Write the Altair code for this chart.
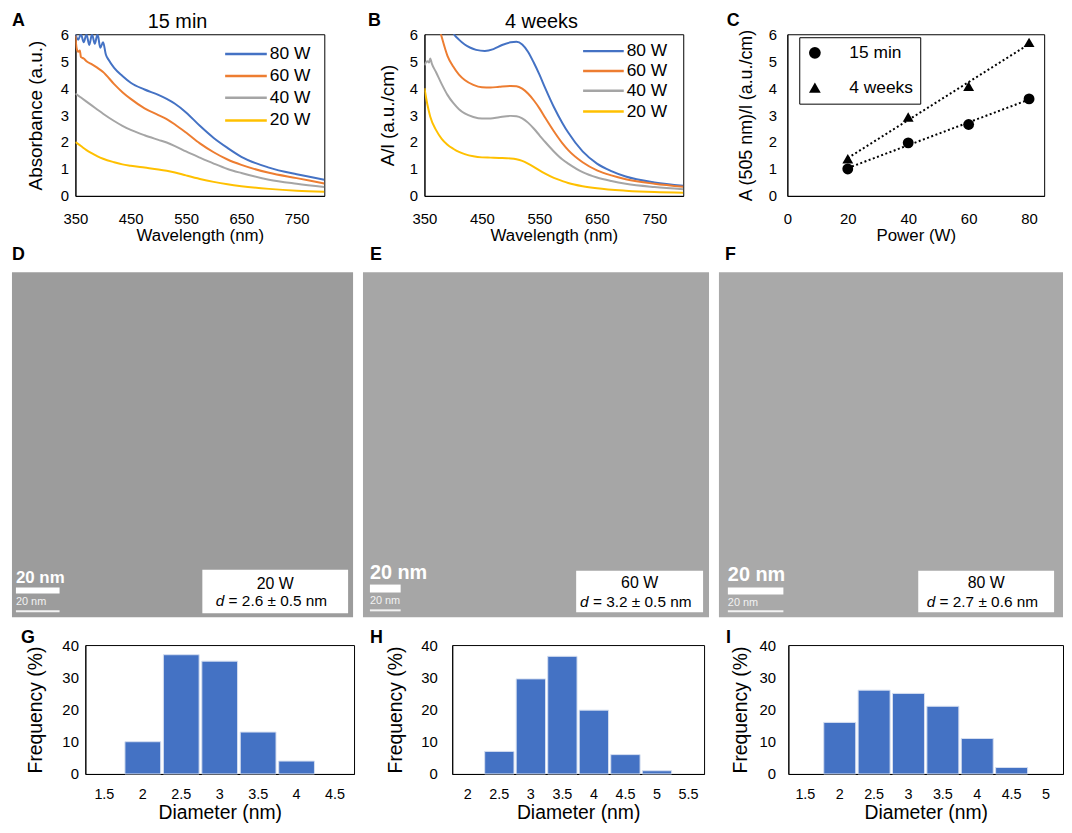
import altair as alt
import pandas as pd

FONT = "Liberation Sans"
BLUE, ORANGE, GRAY, YELLOW = "#4472C4", "#ED7D31", "#A5A5A5", "#FFC000"
SERIES = ["80 W", "60 W", "40 W", "20 W"]
SERIES_COLORS = [BLUE, ORANGE, GRAY, YELLOW]
WL_TICKS = [350, 450, 550, 650, 750]

# ---------------- Panel A : 15 min spectra ----------------
A_WL_80 = [350, 355, 360, 365, 370, 375, 380, 385, 390, 395, 400, 405, 410, 420, 435, 450,
           475, 500, 515, 530, 550, 575, 600, 625, 650, 700, 750, 800]
A_ABS_80 = [6.0, 5.8, 6.0, 5.7, 6.0, 5.6, 6.0, 5.65, 6.0, 5.5, 5.7, 5.25, 5.05, 4.75, 4.45, 4.2,
            3.95, 3.75, 3.6, 3.42, 3.1, 2.6, 2.15, 1.78, 1.45, 1.05, 0.8, 0.6]
A_WL_60 = [350, 352, 355, 358, 360, 365, 370, 380, 390, 400, 420, 435, 450, 475, 500, 515,
           530, 550, 575, 600, 625, 650, 700, 750, 800]
A_ABS_60 = [5.95, 5.5, 5.35, 5.4, 5.15, 5.1, 5.0, 4.88, 4.75, 4.6, 4.15, 3.85, 3.6, 3.25, 3.0, 2.85,
            2.65, 2.35, 1.95, 1.62, 1.35, 1.15, 0.86, 0.66, 0.46]
A_WL_LOW = [350, 360, 370, 380, 390, 400, 420, 435, 450, 475, 500, 515, 530, 550, 575, 600,
            625, 650, 700, 750, 800]
A_ABS_40 = [3.8, 3.65, 3.5, 3.35, 3.2, 3.05, 2.78, 2.6, 2.45, 2.25, 2.08, 1.98, 1.85, 1.65, 1.42, 1.2,
            1.0, 0.85, 0.6, 0.45, 0.33]
A_ABS_20 = [2.0, 1.85, 1.7, 1.58, 1.47, 1.38, 1.25, 1.17, 1.12, 1.05, 0.98, 0.93, 0.87, 0.76, 0.63, 0.52,
            0.43, 0.36, 0.26, 0.19, 0.15]

# ---------------- Panel B : 4 weeks spectra ----------------
B_WL_80 = [395, 400, 410, 420, 430, 440, 455, 470, 485, 500, 510, 520, 530, 540, 550, 560,
           575, 590, 600, 625, 650, 675, 700, 750, 800]
B_VAL_80 = [6.3, 6.05, 5.8, 5.62, 5.5, 5.42, 5.38, 5.45, 5.6, 5.7, 5.72, 5.62, 5.35, 4.95, 4.5, 4.0,
            3.3, 2.7, 2.35, 1.65, 1.2, 0.92, 0.72, 0.5, 0.38]
B_WL_60 = [375, 380, 390, 400, 410, 420, 435, 450, 465, 480, 500, 510, 520, 530, 540, 550,
           560, 575, 590, 600, 625, 650, 675, 700, 750, 800]
B_VAL_60 = [6.3, 5.9, 5.2, 4.8, 4.5, 4.3, 4.12, 4.03, 4.02, 4.05, 4.08, 4.07, 3.98, 3.8, 3.55, 3.25,
            2.9, 2.4, 1.95, 1.7, 1.25, 0.95, 0.76, 0.62, 0.45, 0.34]
B_WL_40 = [350, 355, 358, 360, 363, 370, 380, 390, 400, 410, 420, 435, 450, 465, 480, 500,
           510, 520, 530, 540, 550, 560, 575, 590, 600, 625, 650, 675, 700, 750, 800]
B_VAL_40 = [4.85, 5.0, 4.95, 5.1, 4.9, 4.6, 4.15, 3.75, 3.45, 3.22, 3.06, 2.93, 2.87, 2.87, 2.92, 2.97,
            2.96, 2.88, 2.72, 2.5, 2.25, 2.0, 1.65, 1.35, 1.2, 0.88, 0.68, 0.55, 0.45, 0.33, 0.25]
B_WL_20 = [350, 355, 360, 370, 380, 390, 400, 410, 420, 435, 450, 465, 480, 500, 510, 520,
           530, 540, 550, 560, 575, 590, 600, 625, 650, 700, 750, 800]
B_VAL_20 = [4.0, 3.4, 2.95, 2.45, 2.12, 1.9, 1.75, 1.63, 1.55, 1.47, 1.43, 1.42, 1.41, 1.39, 1.36, 1.3,
            1.2, 1.08, 0.95, 0.83, 0.67, 0.55, 0.48, 0.36, 0.28, 0.19, 0.14, 0.12]

# ---------------- Panel C : A(505 nm) vs power ----------------
C_POWER = [20, 40, 60, 80]
C_15MIN = [1.0, 1.97, 2.65, 3.6]
C_4WEEKS = [1.38, 2.93, 4.07, 5.7]

# ---------------- Panels G, H, I : size histograms ----------------
G_DIAM = ["1.5", "2", "2.5", "3", "3.5", "4", "4.5"]
G_FREQ = [0, 10, 37, 35, 13, 4, 0]
H_DIAM = ["2", "2.5", "3", "3.5", "4", "4.5", "5", "5.5"]
H_FREQ = [0, 7, 29.5, 36.5, 19.8, 6, 1, 0]
I_DIAM = ["1.5", "2", "2.5", "3", "3.5", "4", "4.5", "5"]
I_FREQ = [0, 16, 26, 25, 21, 11, 2, 0]

# ---------------- Panels D, E, F : TEM labels ----------------
TEM_POWER = ["20 W", "60 W", "80 W"]
TEM_DIAM = ["2.6 ± 0.5", "3.2 ± 0.5", "2.7 ± 0.6"]
TEM_FILL = ["#9c9c9c", "#a6a6a6", "#a9a9a9"]

SPEC_H = 163
IMG_H = 348
HIST_H = 130
LETTER_SIZE = 18


def long_df(items):
    rows = []
    for name, wl, vals in items:
        for w, v in zip(wl, vals):
            rows.append({"s": name, "wl": w, "v": v})
    return pd.DataFrame(rows)


def one():
    return pd.DataFrame({"a": [0]})


def txt(s, x, y, size=16, weight="normal", align="left", color="black", style="normal"):
    return alt.Chart(pd.DataFrame({"t": [s]})).mark_text(
        font=FONT, fontSize=size, fontWeight=weight, fontStyle=style,
        align=align, baseline="middle", color=color
    ).encode(x=alt.value(x), y=alt.value(y), text="t:N")


def box(x1, x2, y1, y2, color):
    return alt.Chart(one()).mark_rect(color=color).encode(
        x=alt.value(x1), x2=alt.value(x2), y=alt.value(y1), y2=alt.value(y2))


def ghost(x):
    # invisible rule used only to reserve layout space
    return alt.Chart(one()).mark_rule(color="white", opacity=0).encode(
        x=alt.value(x), y=alt.value(0), y2=alt.value(2))


def spacer():
    return alt.Chart(one()).mark_rule(color="white", opacity=0).encode(
        x=alt.value(0), y=alt.value(0), y2=alt.value(1)
    ).properties(width=1, height=1, view=alt.ViewBackground(stroke="transparent"))


def line_legend(x1, x2, rows_y):
    layers = []
    for name, col, y in zip(SERIES, SERIES_COLORS, rows_y):
        layers.append(alt.Chart(one()).mark_rule(color=col, strokeWidth=2.5).encode(
            x=alt.value(x1), x2=alt.value(x2), y=alt.value(y)))
        layers.append(txt(name, x2 + 3, y, 17.5))
    return layers


def spectra(df, w, h, ytitle, title, title_x, letter, letter_x, leg_x1, leg_x2, leg_rows, tpad, gap):
    lines = alt.Chart(df).mark_line(strokeWidth=2, clip=True, interpolate="monotone").encode(
        x=alt.X("wl:Q", scale=alt.Scale(domain=[350, 800], nice=False, zero=False),
                axis=alt.Axis(values=WL_TICKS, title="Wavelength (nm)", labelFlush=False,
                              labelPadding=16, titlePadding=1)),
        y=alt.Y("v:Q", scale=alt.Scale(domain=[0, 6], nice=False),
                axis=alt.Axis(values=[0, 1, 2, 3, 4, 5, 6], title=ytitle, titleFontSize=19,
                              labelPadding=7, titlePadding=tpad)),
        color=alt.Color("s:N", scale=alt.Scale(domain=SERIES, range=SERIES_COLORS), legend=None))
    return alt.layer(
        lines,
        *line_legend(leg_x1, leg_x2, leg_rows),
        txt(title, title_x, -12, 20, align="center"),
        txt(letter, letter_x, -13, LETTER_SIZE, "bold"),
        ghost(w + gap),
    ).properties(width=w, height=h)


dfA = long_df([("80 W", A_WL_80, A_ABS_80), ("60 W", A_WL_60, A_ABS_60),
               ("40 W", A_WL_LOW, A_ABS_40), ("20 W", A_WL_LOW, A_ABS_20)])
dfB = long_df([("80 W", B_WL_80, B_VAL_80), ("60 W", B_WL_60, B_VAL_60),
               ("40 W", B_WL_40, B_VAL_40), ("20 W", B_WL_20, B_VAL_20)])

chartA = spectra(dfA, 251, SPEC_H, "Absorbance (a.u.)", "15 min", 103, "A", -64,
                 151, 193, [20, 42, 64, 87], 15, 42)
chartB = spectra(dfB, 261, SPEC_H, "A/l (a.u./cm)", "4 weeks", 118, "B", -57,
                 160, 201, [17, 37, 57, 78], 12, 42)

# Panel C
dfC = pd.DataFrame({"p": C_POWER * 2, "v": C_15MIN + C_4WEEKS,
                    "s": ["15 min"] * 4 + ["4 weeks"] * 4})
xC = alt.X("p:Q", scale=alt.Scale(domain=[0, 85], nice=False),
           axis=alt.Axis(values=[0, 20, 40, 60, 80], title="Power (W)", labelFlush=False,
                         labelPadding=16, titlePadding=1))
yC = alt.Y("v:Q", scale=alt.Scale(domain=[0, 6], nice=False),
           axis=alt.Axis(values=[0, 1, 2, 3, 4, 5, 6], title="A (505 nm)/l (a.u./cm)",
                         titleFontSize=18, labelPadding=11, titlePadding=13))
trendC = alt.Chart(dfC).transform_regression("p", "v", groupby=["s"]).mark_line(
    color="black", strokeDash=[2, 2.5], strokeWidth=2).encode(x=xC, y=yC, detail="s:N")
ptsC = alt.Chart(dfC).mark_point(filled=True, size=120, color="black", opacity=1).encode(
    x=xC, y=yC,
    shape=alt.Shape("s:N", scale=alt.Scale(domain=["15 min", "4 weeks"],
                                           range=["circle", "triangle-up"]),
                    legend=alt.Legend(orient="none", legendX=12, legendY=3, title=None,
                                      strokeColor="black", fillColor="white", padding=7,
                                      symbolFillColor="black", symbolStrokeColor="black",
                                      symbolSize=140, labelFont=FONT, labelFontSize=17.5,
                                      labelColor="black", labelOffset=26, rowPadding=16)))
chartC = alt.layer(trendC, ptsC, txt("C", -61, -13, LETTER_SIZE, "bold")).properties(
    width=259, height=SPEC_H)


# TEM panels
def tem(i, w, h, extra, gap, letter_x, box_l, box_r, box_t, box_b, lab_y, d_y,
        sb_x, sb_w, sb_font, sb_y, bar_t, bar_b, small_y, ul_y):
    cx = w - (box_l + box_r) / 2
    layers = [
        box(0, w, 0, h, TEM_FILL[i]),
        txt("DEF"[i], letter_x, -17, LETTER_SIZE, "bold"),
        box(w - box_l, w - box_r, h - box_t, h - box_b, "white"),
        txt(TEM_POWER[i], cx, h - lab_y, 16, align="center"),
        txt("d", cx - 60, h - d_y, 15.5, style="italic"),
        txt("= " + TEM_DIAM[i] + " nm", cx - 47, h - d_y, 15.5),
        txt("20 nm", sb_x, h - sb_y, sb_font, "bold", color="white"),
        box(sb_x, sb_x + sb_w, h - bar_t, h - bar_b, "white"),
        txt("20 nm", sb_x, h - small_y, 11, color="#f2f2f2"),
        box(sb_x, sb_x + sb_w, h - ul_y - 1, h - ul_y + 1, "#f2f2f2"),
    ]
    if gap:
        layers.append(ghost(w + gap))
    return alt.layer(*layers).properties(
        width=w, height=h + extra, view=alt.ViewBackground(stroke="transparent"))


chartD = tem(0, 344, IMG_H, 9, 8, 0, 152, 5, 48, 4, 34, 16, 4, 44, 17, 40, 30, 24, 15, 6)
chartE = tem(1, 349, IMG_H, 9, 8, 7, 134, 6, 47, 5, 35, 15, 7, 31, 20, 45, 33, 25, 16, 7)
chartF = tem(2, 347, IMG_H, 9, 0, 6, 146, 9, 47, 5, 35, 15, 9, 56, 20, 43, 30, 23, 14, 6)


def hist(cats, vals, w, h, letter, letter_x, ext_x, lpad, tpad, gap):
    df = pd.DataFrame({"d": cats, "f": vals})
    bars = alt.Chart(df).mark_bar(color=BLUE, stroke="#d6dff0", strokeWidth=1).encode(
        x=alt.X("d:N", sort=cats, scale=alt.Scale(paddingInner=0.07, paddingOuter=0.03),
                axis=alt.Axis(title="Diameter (nm)", labelAngle=0, labelPadding=14,
                              titlePadding=2, labelFontSize=14.5, titleFontSize=19.5)),
        y=alt.Y("f:Q", scale=alt.Scale(domain=[0, 40], nice=False),
                axis=alt.Axis(values=[0, 10, 20, 30, 40], title="Frequency (%)",
                              labelPadding=lpad, titlePadding=tpad,
                              labelFontSize=15, titleFontSize=19.5)),
        strokeOpacity=alt.condition("datum.f > 0", alt.value(1), alt.value(0)))
    layers = [bars, ghost(ext_x), txt(letter, letter_x, -7, LETTER_SIZE, "bold")]
    if gap:
        layers.append(ghost(w + gap))
    return alt.layer(*layers).properties(width=w, height=h)


chartG = hist(G_DIAM, G_FREQ, 271, HIST_H, "G", -65, -74, 7, 17, 14)
chartH = hist(H_DIAM, H_FREQ, 254, HIST_H, "H", -83, -83, 15, 15, 14)
chartI = hist(I_DIAM, I_FREQ, 277, HIST_H, "I", -63, -69, 13, 9, 0)

row1 = alt.hconcat(spacer(), chartA, chartB, chartC, spacing=0).resolve_scale(
    color="independent", shape="independent")
row2 = alt.hconcat(spacer(), chartD, chartE, chartF, spacing=0)
row3 = alt.hconcat(spacer(), chartG, chartH, chartI, spacing=0)

chart = alt.vconcat(row1, row2, row3, spacing=1).resolve_scale(
    color="independent", shape="independent").properties(
    padding=0, background="white"
).configure(font=FONT).configure_view(stroke="black", strokeWidth=1).configure_axis(
    grid=False, ticks=False, domainColor="black", domainWidth=1,
    labelColor="black", titleColor="black", labelFont=FONT, titleFont=FONT,
    titleFontWeight="normal", labelFontSize=15, titleFontSize=17)

chart.save("out.html", embed_options={"renderer": "svg", "actions": False})
